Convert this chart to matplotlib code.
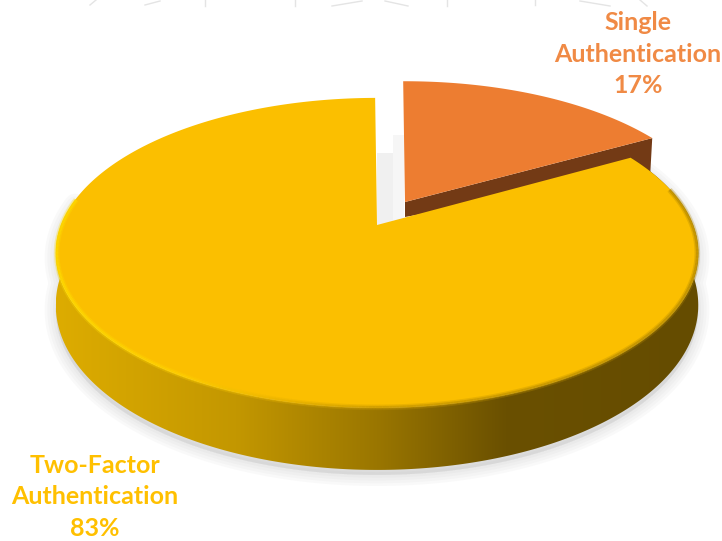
#3D looking exploded pie of authentication methods - drawn in pixel coordinates
import numpy as np
import matplotlib
matplotlib.use("Agg")
import matplotlib.pyplot as plt
from matplotlib.collections import LineCollection
from matplotlib.colors import LinearSegmentedColormap

labels = ["Two-Factor\nAuthentication", "Single\nAuthentication"]
shares = [83, 17]
colors = ["#FBBF00", "#ED7D31"]
label_colors = ["#FFC000", "#F08A45"]

W, H = 722, 541
fig = plt.figure(figsize=(W / 100, H / 100), dpi=100)
ax = fig.add_axes([0, 0, 1, 1])

cx, cy = 377.0, 225.0  #apex of the yellow slice
Rx, Ry = 316.0, 150.0
k = 0.18  #perspective strength
start = 90.4  #first slice edge, degrees


def proj(theta, sx=1.0, sy=1.0, ox=0.0, oy=0.0):
    t = np.radians(theta)
    u, v = np.cos(t), np.sin(t)
    d = 1 + k * v
    return ox + cx + sx * Rx * u / d, oy + cy - sy * Ry * v / d


def depth(theta):
    v = np.sin(np.radians(theta))
    return 50 + 12 * np.clip(-v, 0, 1)


a_orange = shares[1] / sum(shares) * 360
split = start - a_orange

#scraps of a cut off picture along the top edge
for x0, x1, y0, y1 in [(90, 96, 5, 0), (145, 160, 5, 1), (205, 205, 0, 6), (295, 295, 0, 6),
                       (332, 362, 6, 1), (385, 408, 1, 6), (447, 447, 0, 6), (535, 535, 0, 5),
                       (580, 610, 1, 6), (640, 647, 0, 6)]:
    ax.plot([x0, x1], [y0, y1], color="#E4E4E4", lw=1.0, zorder=1)

#soft shadow below the disc
th_wall = np.linspace(split, -190, 300)
xb, yb = proj(th_wall)
yb = yb + depth(th_wall)
xt, yt = proj(th_wall)
xw = np.r_[xt, xb[::-1]]
yw = np.r_[yt, yb[::-1]]
for lw in [16, 12, 8, 4]:
    ax.fill(xw, yw + 5, facecolor="#888888", edgecolor="#888888", lw=lw, alpha=0.045, zorder=2,
            joinstyle="round")

#shadow in the gap between the slices
ax.fill([cx, cx + 16, cx + 16, cx], [cy + 3, cy - 3, cy - 72, cy - 72], color="#F0F0F0", lw=0, zorder=2)
ax.fill([cx + 16, cx + 27, cx + 27, cx + 16], [cy - 3, cy - 4, cy - 90, cy - 90], color="#F6F6F6", lw=0, zorder=2)

#orange slice, pulled out of the pie
ox, oy, sx, sy = 28.0, -23.0, 0.975, 0.95
th_o = np.linspace(start, split, 80)
xo, yo = proj(th_o, sx, sy, ox, oy)
ax_, ay_ = cx + ox, cy + oy
xc, yc = proj(split, sx, sy, ox, oy)
ax.fill([ax_, xc, xc - 2, ax_], [ay_, yc, yc + 36, ay_ + 15], color="#733A15", lw=0, zorder=3)
ax.fill(np.r_[ax_, xo], np.r_[ay_, yo], color=colors[1], lw=0, zorder=4)

#yellow slice side wall, shaded left to right
wall_cmap = LinearSegmentedColormap.from_list(
    "wall", [(0, "#DDAC00"), (0.28, "#C39700"), (0.5, "#9A7600"), (0.7, "#6A5000"), (1, "#654C00")])
im = ax.imshow(np.linspace(0, 1, 256).reshape(1, -1), cmap=wall_cmap, aspect="auto",
               extent=(xw.min(), xw.max(), yw.max(), yw.min()), zorder=5)
wall = ax.fill(xw, yw, facecolor="none", edgecolor="none", zorder=5)[0]
im.set_clip_path(wall)

#yellow slice top face
th_y = np.linspace(split, start - 360, 400)
xy, yy = proj(th_y)
ax.fill(np.r_[cx, xy], np.r_[cy, yy], color=colors[0], lw=0, zorder=6)

#bevel along the rim, bright on the left and dark on the right
th_r = np.linspace(split - 15, -190, 400)
xr, yr = proj(th_r, 0.997, 0.997)
pts = np.c_[xr, yr].reshape(-1, 1, 2)
segs = np.concatenate([pts[:-1], pts[1:]], axis=1)
rim_cmap = LinearSegmentedColormap.from_list(
    "rim", [(0, "#B08600"), (0.5, "#C49500"), (0.68, "#EDB800"), (0.8, "#FFD000"), (1, "#FFDE00")])
shade = np.clip((xr.max() - xr[:-1]) / (xr.max() - xr.min()), 0, 1)
for lw, alpha in [(4.0, 0.3), (2.0, 0.6)]:
    lc = LineCollection(segs, cmap=rim_cmap, linewidths=lw, alpha=alpha, zorder=7)
    lc.set_array(shade)
    ax.add_collection(lc)

#labels
font = dict(family="Lato", weight="bold", fontsize=18, ha="center", va="center",
            linespacing=1.45, zorder=8)
ax.text(95, 497, "%s\n%d%%" % (labels[0], shares[0]), color=label_colors[0], **font)
ax.text(638, 54, "%s\n%d%%" % (labels[1], shares[1]), color=label_colors[1], **font)

ax.set_xlim(0, W)
ax.set_ylim(H, 0)
ax.axis("off")
fig.savefig("out.png", dpi=100)
